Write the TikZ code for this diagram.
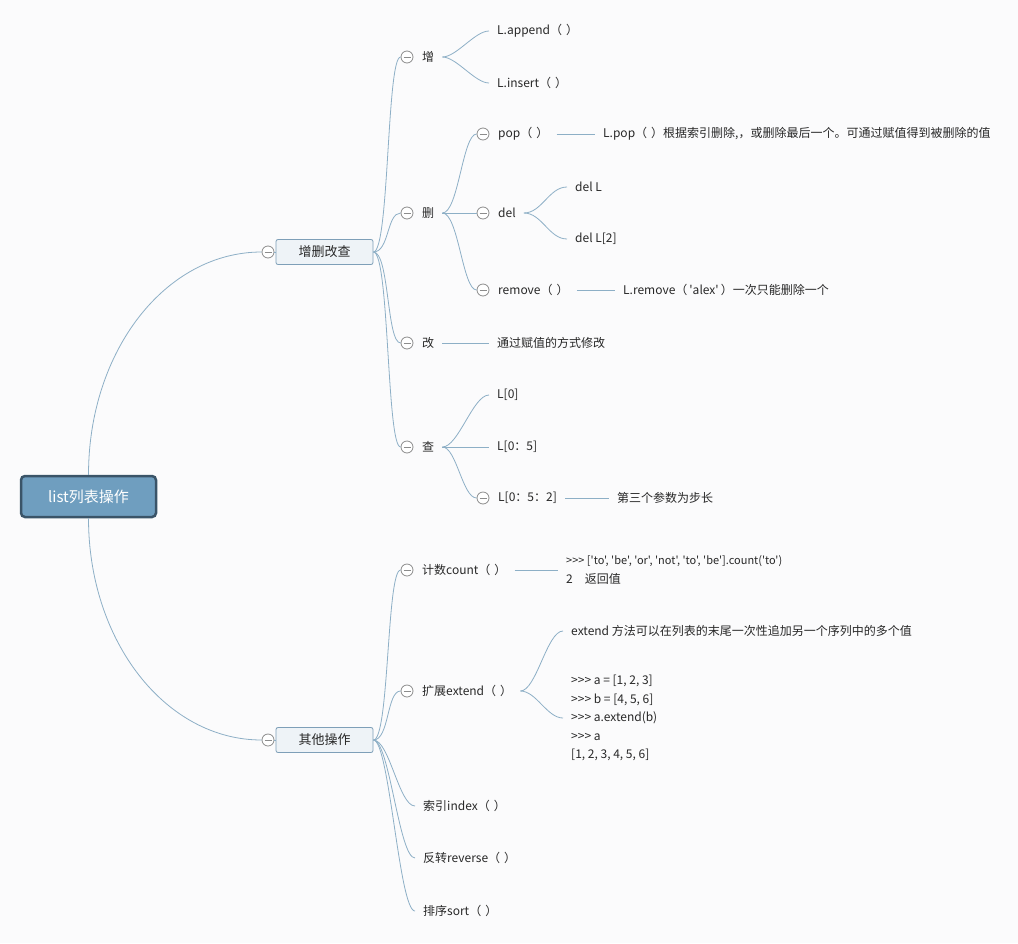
\documentclass[tikz,border=0pt]{standalone}
\usepackage{fontspec}
\newfontfamily\nfont{Noto Sans CJK SC}
\definecolor{lineC}{RGB}{141,175,198}
\definecolor{foldC}{RGB}{140,140,140}
\definecolor{rootF}{RGB}{111,158,191}
\definecolor{rootB}{RGB}{58,84,104}
\definecolor{boxF}{RGB}{238,243,247}
\definecolor{boxB}{RGB}{126,159,184}
\definecolor{txtC}{RGB}{40,40,40}
\definecolor{bgC}{RGB}{251,251,252}
\newcommand{\pp}{（\hspace{4pt}）}
\begin{document}
\begin{tikzpicture}[x=1pt,y=-1pt,
  conn/.style={draw=lineC, line width=0.8pt},
  foldc/.style={circle, draw=foldC, line width=0.8pt, fill=white, minimum size=12pt, inner sep=0pt,
    path picture={\draw[foldC, line width=0.8pt] ([xshift=-3.5pt]path picture bounding box.center) -- ([xshift=3.5pt]path picture bounding box.center);}},
  lbl/.style={anchor=west, inner xsep=8pt, inner ysep=3pt, text=txtC, font=\nfont\fontsize{12}{18}\selectfont},
  code/.style={lbl, align=left, font=\nfont\fontsize{12}{18.5}\selectfont},
  rootbox/.style={rectangle, rounded corners=4pt, minimum width=135pt, minimum height=41pt, fill=rootF, draw=rootB, line width=2.5pt, text=white, font=\nfont\fontsize{15}{18}\selectfont},
  subbox/.style={rectangle, rounded corners=2pt, minimum width=97pt, minimum height=25pt, fill=boxF, draw=boxB, line width=0.8pt, text=txtC, font=\nfont\fontsize{13}{16}\selectfont}
]
\fill[bgC] (0,0) rectangle (1018,943);
\useasboundingbox (0,0) rectangle (1018,943);

% root and main branches
\node[rootbox] (root) at (88.5,496.5) {list列表操作};
\node[subbox] (A) at (324.5,252) {增删改查};
\node[subbox] (B) at (324.5,740) {其他操作};
\node[foldc] (fA) at (268,252) {};
\node[foldc] (fB) at (268,740) {};
\draw[conn] (root.north) .. controls +(0,-124) and +(-96,0) .. (fA.west);
\draw[conn] (root.south) .. controls +(0,123) and +(-96,0) .. (fB.west);
\draw[conn] (fA.east) -- (A.west);
\draw[conn] (fB.east) -- (B.west);

% ---- 增删改查 ----
\node[foldc] (fz) at (407,57) {};
\node[lbl] (tz) at (414,57) {增};
\node[foldc] (fs) at (407,213) {};
\node[lbl] (ts) at (414,213) {删};
\node[foldc] (fg) at (407,343) {};
\node[lbl] (tg) at (414,343) {改};
\node[foldc] (fc) at (407,447) {};
\node[lbl] (tc) at (414,447) {查};
\foreach \n in {fz,fs,fg,fc}
  \draw[conn] (A.east) .. controls +(16,0) and +(-14,0) .. (\n.west);

% 增
\node[lbl] (ap) at (489,31) {L.append\pp};
\node[lbl] (ins) at (489,83) {L.insert\pp};
\draw[conn] (tz.east) .. controls +(14,0) and +(-14,0) .. (ap.west);
\draw[conn] (tz.east) .. controls +(14,0) and +(-14,0) .. (ins.west);

% 删
\node[foldc] (fpop) at (483,134) {};
\node[lbl] (pop) at (490,134) {pop\pp};
\node[lbl] (popd) at (595,134) {L.pop\pp 根据索引删除,，或删除最后一个。可通过赋值得到被删除的值};
\node[foldc] (fdel) at (483,213) {};
\node[lbl] (del) at (490,213) {del};
\node[lbl] (dl1) at (567,187) {del L};
\node[lbl] (dl2) at (567,239) {del L[2]};
\node[foldc] (frm) at (483,290) {};
\node[lbl] (rm) at (490,290) {remove\pp};
\node[lbl] (rmd) at (615,290) {L.remove（\hspace{2pt}'alex'\hspace{2pt}）一次只能删除一个};
\draw[conn] (ts.east) .. controls +(16,0) and +(-14,0) .. (fpop.west);
\draw[conn] (ts.east) -- (fdel.west);
\draw[conn] (ts.east) .. controls +(16,0) and +(-14,0) .. (frm.west);
\draw[conn] (pop.east) -- (popd.west);
\draw[conn] (rm.east) -- (rmd.west);
\draw[conn] (del.east) .. controls +(18,0) and +(-18,0) .. (dl1.west);
\draw[conn] (del.east) .. controls +(18,0) and +(-18,0) .. (dl2.west);

% 改
\node[lbl] (gd) at (489,343) {通过赋值的方式修改};
\draw[conn] (tg.east) -- (gd.west);

% 查
\node[lbl] (c1) at (489,395) {L[0]};
\node[lbl] (c2) at (489,447) {L[0：5]};
\node[foldc] (fc3) at (483,498) {};
\node[lbl] (c3) at (490,498) {L[0：5：2]};
\node[lbl] (c3d) at (609,498) {第三个参数为步长};
\draw[conn] (tc.east) .. controls +(16,0) and +(-16,0) .. (c1.west);
\draw[conn] (tc.east) -- (c2.west);
\draw[conn] (tc.east) .. controls +(14,0) and +(-14,0) .. (fc3.west);
\draw[conn] (c3.east) -- (c3d.west);

% ---- 其他操作 ----
\node[foldc] (fcnt) at (407,570) {};
\node[lbl] (cnt) at (414,570) {计数count\pp};
\node[code] (cntd) at (558,570) {{\fontsize{11}{12}\selectfont >>> ['to', 'be', 'or', 'not', 'to', 'be'].count('to')}\\2\quad 返回值};
\node[foldc] (fext) at (407,691) {};
\node[lbl] (ext) at (414,691) {扩展extend\pp};
\node[lbl] (e1) at (563,631) {extend 方法可以在列表的末尾一次性追加另一个序列中的多个值};
\node[code] (e2) at (563,718) {>>> a = [1, 2, 3]\\>>> b = [4, 5, 6]\\>>> a.extend(b)\\>>> a\\{}[1, 2, 3, 4, 5, 6]};
\node[lbl] (idx) at (415,806) {索引index\pp};
\node[lbl] (rev) at (415,858) {反转reverse\pp};
\node[lbl] (srt) at (415,911) {排序sort\pp};
\draw[conn] (B.east) .. controls +(16,0) and +(-14,0) .. (fcnt.west);
\draw[conn] (B.east) .. controls +(16,0) and +(-14,0) .. (fext.west);
\foreach \n in {idx,rev,srt}
  \draw[conn] (B.east) .. controls +(16,0) and +(-16,0) .. (\n.west);
\draw[conn] (cnt.east) -- (cntd.west);
\draw[conn] (ext.east) .. controls +(16,0) and +(-16,0) .. (e1.west);
\draw[conn] (ext.east) .. controls +(16,0) and +(-16,0) .. (e2.west);
\end{tikzpicture}
\end{document}
